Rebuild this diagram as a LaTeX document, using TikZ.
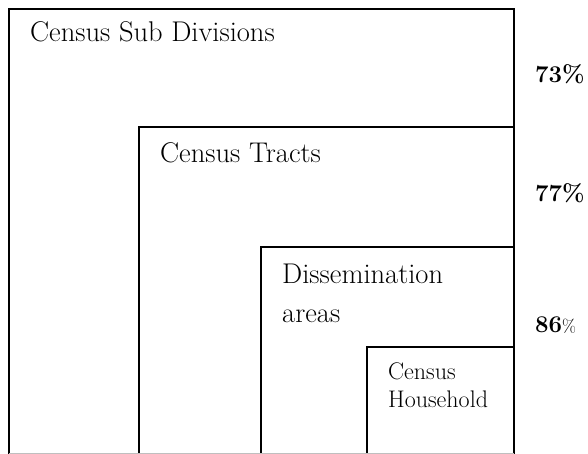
\documentclass[tikz,border=0pt]{standalone}
\usepackage{tikz}
\usetikzlibrary{positioning}

\begin{document}
\begin{tikzpicture}[x=1pt, y=-1pt]
	\tikzstyle{region}=[draw=black, line width=1.8pt]
	\tikzstyle{boxtext}=[anchor=base west, inner sep=0pt, align=left, font=\fontsize{28.5}{39}\selectfont]
	\tikzstyle{smalltext}=[anchor=base west, inner sep=0pt, align=left, font=\fontsize{24}{28}\selectfont]
	\tikzstyle{share}=[anchor=base west, inner sep=0pt, font=\fontsize{24}{28}\selectfont\bfseries]
	\useasboundingbox (0,0) rectangle (588,454);
	% nested regions, all open at the bottom
	\coordinate (corner) at (514,9);
	\draw[region] (9,454) |- (corner) -- (514,454);
	\draw[region] (139,454) |- (514,127);
	\draw[region] (261,454) |- (514,247);
	\draw[region] (367,454) |- (514,347);
	\draw[gray!50, line width=1pt] (9,453.5) -- (514,453.5);
	% region names (base = last line)
	\node (csd) at (30,42) [boxtext]{Census Sub Divisions};
	\node (ct) at (160,163) [boxtext]{Census Tracts};
	\node (da) at (282,322) [boxtext]{Dissemination\\areas};
	\node (ch) at (388,407) [smalltext]{Census\\Household};
	% shares
	\node (p73) at (535,83) [share]{73\%};
	\node (p77) at (535,202) [share]{77\%};
	\node (p86) at (535,332) [share]{86{\fontsize{18}{20}\selectfont\mdseries\%}};
\end{tikzpicture}
\end{document}
